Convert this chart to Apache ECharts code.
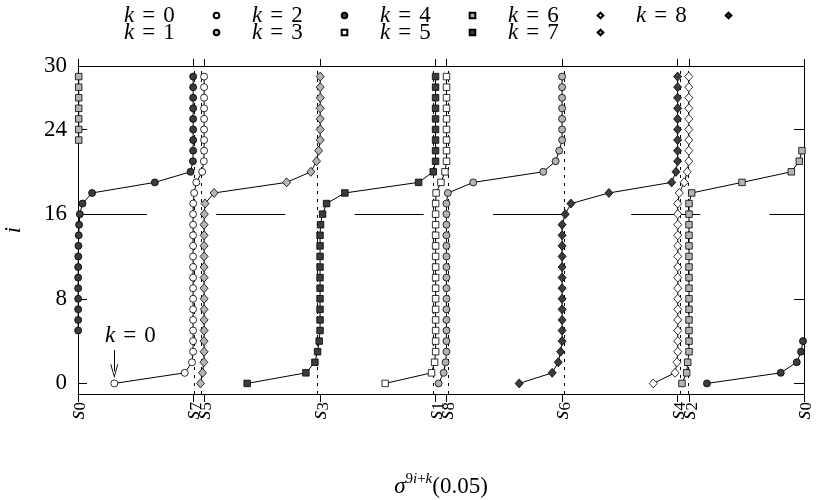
<!DOCTYPE html>
<html>
<head>
<meta charset="utf-8">
<title>sigma orbit</title>
<script src="https://cdn.jsdelivr.net/npm/echarts@6.0.0/dist/echarts.min.js"></script>
<style>
  html, body { margin: 0; padding: 0; background: #fff; }
  #chartOrbit { width: 830px; height: 500px; }
</style>
</head>
<body>
<div id="chartOrbit"></div>
<script>
// row index i of sigma^(9i+k)(0.05)
const iValues = [0, 1, 2, 3, 4, 5, 6, 7, 8, 9, 10, 11, 12, 13, 14, 15, 16, 17, 18, 19, 20, 21, 22, 23, 24, 25, 26, 27, 28, 29];

// positions of the period-9 points s0..s8 on [0,1] (x ticks)
const sTicks = [0, 0.1586, 0.1735, 0.3334, 0.4927, 0.5076, 0.6669, 0.8261, 0.8417, 1];
const sLabels = ['0', '7', '5', '3', '1', '8', '6', '4', '2', '0'];
const yTicks = [0, 8, 16, 24, 30];
const hLineLevel = 16;

// sigma^(9i+k)(0.05) for i = 0..29
const k0 = [0.050, 0.147, 0.157, 0.1585, 0.1585, 0.1585, 0.1585, 0.1585, 0.1585, 0.1585,
  0.1585, 0.1585, 0.1585, 0.1585, 0.1585, 0.1585, 0.1585, 0.1587, 0.160, 0.163,
  0.171, 0.1733, 0.1737, 0.1737, 0.1737, 0.1737, 0.1737, 0.1737, 0.1737, 0.1737];
const k1 = [0.4967, 0.5036, 0.5063, 0.5075, 0.5075, 0.5075, 0.5075, 0.5075, 0.5075, 0.5075,
  0.5075, 0.5075, 0.5075, 0.5075, 0.5075, 0.5075, 0.5075, 0.5075, 0.5095, 0.5444,
  0.6408, 0.6579, 0.6629, 0.6668, 0.6668, 0.6668, 0.6668, 0.6668, 0.6668, 0.6668];
const k2 = [0.8663, 0.968, 0.990, 0.9959, 0.9986, 0.0002, 0.0002, 0.0002, 0.0002, 0.0002,
  0.0002, 0.0003, 0.0004, 0.0006, 0.0010, 0.0015, 0.0025, 0.0062, 0.0194, 0.1058,
  0.1550, 0.1583, 0.1586, 0.1586, 0.1586, 0.1586, 0.1586, 0.1586, 0.1586, 0.1586];
const k3 = [0.4231, 0.487, 0.4912, 0.4926, 0.4926, 0.4926, 0.4926, 0.4926, 0.4926, 0.4926,
  0.4926, 0.4926, 0.4926, 0.4926, 0.4926, 0.4926, 0.4926, 0.4926, 0.4932, 0.4999,
  0.5055, 0.5076, 0.5076, 0.5076, 0.5076, 0.5076, 0.5076, 0.5076, 0.5076, 0.5076];
const k4 = [0.8319, 0.8384, 0.8398, 0.8416, 0.8416, 0.8416, 0.8416, 0.8416, 0.8416, 0.8416,
  0.8416, 0.8416, 0.8416, 0.8416, 0.8416, 0.8416, 0.8416, 0.8416, 0.8453, 0.9146,
  0.9825, 0.9935, 0.9972, 0.0010, 0.0010, 0.0010, 0.0010, 0.0010, 0.0010, 0.0010];
const k5 = [0.233, 0.3139, 0.3263, 0.3300, 0.3322, 0.3334, 0.3334, 0.3334, 0.3334, 0.3334,
  0.3334, 0.3334, 0.3334, 0.3334, 0.3334, 0.3341, 0.3369, 0.3424, 0.3676, 0.4691,
  0.4893, 0.4925, 0.4925, 0.4925, 0.4925, 0.4925, 0.4925, 0.4925, 0.4925, 0.4925];
const k6 = [0.7924, 0.8223, 0.8250, 0.8261, 0.8261, 0.8261, 0.8261, 0.8261, 0.8261, 0.8261,
  0.8261, 0.8261, 0.8261, 0.8261, 0.8261, 0.8261, 0.8261, 0.8261, 0.8282, 0.8350,
  0.8392, 0.8413, 0.8413, 0.8413, 0.8413, 0.8413, 0.8413, 0.8413, 0.8413, 0.8413];
const k7 = [0.1688, 0.1715, 0.1733, 0.1737, 0.1737, 0.1737, 0.1737, 0.1737, 0.1737, 0.1737,
  0.1737, 0.1737, 0.1737, 0.1737, 0.1737, 0.1737, 0.1740, 0.1750, 0.1875, 0.2873,
  0.3208, 0.3286, 0.3314, 0.3336, 0.3336, 0.3336, 0.3336, 0.3336, 0.3336, 0.3336];
const k8 = [0.6077, 0.6532, 0.6615, 0.6648, 0.6668, 0.6668, 0.6668, 0.6668, 0.6668, 0.6668,
  0.6668, 0.6668, 0.6668, 0.6668, 0.6668, 0.6668, 0.6711, 0.6790, 0.7313, 0.8177,
  0.8237, 0.8259, 0.8259, 0.8259, 0.8259, 0.8259, 0.8259, 0.8259, 0.8259, 0.8259];

const kSeries = [k0, k1, k2, k3, k4, k5, k6, k7, k8];

const serif = '"Liberation Serif", "DejaVu Serif", serif';
const fills = ['#ffffff', '#b4b4b4', '#3c3c3c'];
const shapes = ['circle', 'rect', 'diamond'];
const shapeSize = { circle: 7, rect: 6.5, diamond: [8, 9] };

// text "k = n" with italic k
const kRich = {
  i: { fontStyle: 'italic', fontSize: 23, fontFamily: serif, color: '#000', align: 'left' },
  e: { fontSize: 23, fontFamily: serif, color: '#000', align: 'left', padding: [0, 8, 0, 8] },
  n: { fontSize: 23, fontFamily: serif, color: '#000', align: 'left' }
};
function kText(n) {
  return '{i|k}{e|=}{n|' + n + '}';
}

// the map lives on the circle: cut the polyline where it wraps 1 -> 0
function segments(xs) {
  const parts = [[]];
  xs.forEach((x, i) => {
    const cur = parts[parts.length - 1];
    if (cur.length && Math.abs(x - cur[cur.length - 1][0]) > 0.5) parts.push([]);
    parts[parts.length - 1].push([x, iValues[i]]);
  });
  return parts;
}

const series = [];
kSeries.forEach((xs, k) => {
  const shape = shapes[Math.floor(k / 3)];
  segments(xs).forEach(part => {
    series.push({
      name: 'k = ' + k,
      type: 'line',
      data: part,
      symbol: shape,
      legendIcon: shape,
      symbolSize: shapeSize[shape],
      showAllSymbol: true,
      clip: false,
      z: 3,
      lineStyle: { color: '#000', width: 1 },
      itemStyle: { color: fills[k % 3], borderColor: '#000', borderWidth: 0.8 },
      emphasis: { disabled: true }
    });
  });
});

// dashed guides at the s_j, the dashed level i = 16 and the k = 0 arrow
series.push({
  name: 'guides',
  type: 'line',
  data: [],
  z: 1,
  silent: true,
  markLine: {
    z: 1,
    silent: true,
    symbol: ['none', 'none'],
    label: { show: false },
    lineStyle: { color: '#000', width: 1, type: [3, 5] },
    data: sTicks.slice(1, -1).map(v => ({ xAxis: v })).concat([
      { yAxis: hLineLevel, lineStyle: { type: [69, 69.3], width: 1 } },
      [
        { coord: [k0[0], 3.15], symbol: 'none', lineStyle: { type: 'solid', width: 1 } },
        { coord: [k0[0], 1.15], symbol: 'path://M5,0L10,14L8.8,14L5,3L1.2,14L0,14Z', symbolSize: [8, 14] }
      ]
    ])
  },
  markPoint: {
    z: 4,
    silent: true,
    symbol: 'circle',
    symbolSize: 1,
    itemStyle: { color: 'rgba(0,0,0,0)' },
    label: { show: true, position: 'inside', offset: [16, 0], formatter: kText(0), rich: kRich },
    data: [{ coord: [k0[0], 4.5] }]
  }
});

const legendCommon = {
  orient: 'horizontal',
  align: 'right',
  itemWidth: 7,
  itemHeight: 7,
  itemGap: 31,
  padding: 0,
  selectedMode: false,
  formatter: name => kText(name.slice(-1)),
  textStyle: { width: 84, fontSize: 23, fontFamily: serif, color: '#000', rich: kRich }
};

const chartOrbit = echarts.init(document.getElementById('chartOrbit'));
chartOrbit.setOption({
  animation: false,
  backgroundColor: '#fff',
  legend: [
    Object.assign({ data: ['k = 0', 'k = 2', 'k = 4', 'k = 6', 'k = 8'], left: 124, top: 4 }, legendCommon),
    Object.assign({ data: ['k = 1', 'k = 3', 'k = 5', 'k = 7'], left: 124, top: 21 }, legendCommon)
  ],
  grid: { left: 78, right: 26, top: 66, bottom: 106, outerBoundsMode: 'none', containLabel: false },
  xAxis: [
    {
      type: 'value',
      position: 'bottom',
      min: 0,
      max: 1,
      axisLine: { show: true, onZero: false, lineStyle: { color: '#000', width: 1 } },
      axisTick: { show: true, customValues: sTicks, length: 8, lineStyle: { color: '#000' } },
      axisLabel: {
        customValues: sTicks,
        rotate: 90,
        margin: 8,
        formatter: v => {
          let j = 0;
          sTicks.forEach((t, n) => { if (Math.abs(t - v) < Math.abs(sTicks[j] - v)) j = n; });
          return '{s|s}{d|' + sLabels[j] + '}';
        },
        rich: {
          s: { fontStyle: 'italic', fontSize: 23, fontFamily: serif, color: '#000', verticalAlign: 'bottom' },
          d: { fontSize: 17, fontFamily: serif, color: '#000', verticalAlign: 'bottom' }
        }
      },
      splitLine: { show: false },
      name: '{a|σ}{s|9}{si|i}{s|+}{si|k}{b|(0.05)}',
      nameLocation: 'middle',
      nameGap: 78,
      nameTextStyle: {
        fontSize: 23,
        fontFamily: serif,
        color: '#000',
        rich: {
          a: { fontStyle: 'italic', fontSize: 23, fontFamily: serif, color: '#000', verticalAlign: 'bottom' },
          s: { fontSize: 15, fontFamily: serif, color: '#000', verticalAlign: 'bottom', padding: [0, 0, 11, 0] },
          si: { fontStyle: 'italic', fontSize: 15, fontFamily: serif, color: '#000', verticalAlign: 'bottom', padding: [0, 0, 11, 0] },
          b: { fontSize: 23, fontFamily: serif, color: '#000', verticalAlign: 'bottom' }
        }
      }
    },
    {
      type: 'value',
      position: 'top',
      min: 0,
      max: 1,
      axisLine: { show: true, onZero: false, lineStyle: { color: '#000', width: 1 } },
      axisTick: { show: true, customValues: sTicks, length: 7, lineStyle: { color: '#000' } },
      axisLabel: { show: false },
      splitLine: { show: false }
    }
  ],
  yAxis: [
    {
      type: 'value',
      position: 'left',
      min: -1,
      max: 30,
      axisLine: { show: true, onZero: false, lineStyle: { color: '#000', width: 1 } },
      axisTick: { show: true, inside: true, customValues: yTicks, length: 9, lineStyle: { color: '#000' } },
      axisLabel: { customValues: yTicks, margin: 11, fontSize: 23, fontFamily: serif, color: '#000' },
      splitLine: { show: false },
      name: 'i',
      nameLocation: 'middle',
      nameRotate: 90,
      nameGap: 53,
      nameTextStyle: { fontStyle: 'italic', fontSize: 23, fontFamily: serif, color: '#000' }
    },
    {
      type: 'value',
      position: 'right',
      min: -1,
      max: 30,
      axisLine: { show: true, onZero: false, lineStyle: { color: '#000', width: 1 } },
      axisTick: { show: true, inside: true, customValues: yTicks.slice(0, -1), length: 10, lineStyle: { color: '#000' } },
      axisLabel: { show: false },
      splitLine: { show: false }
    }
  ],
  series: series
});
</script>
</body>
</html>
